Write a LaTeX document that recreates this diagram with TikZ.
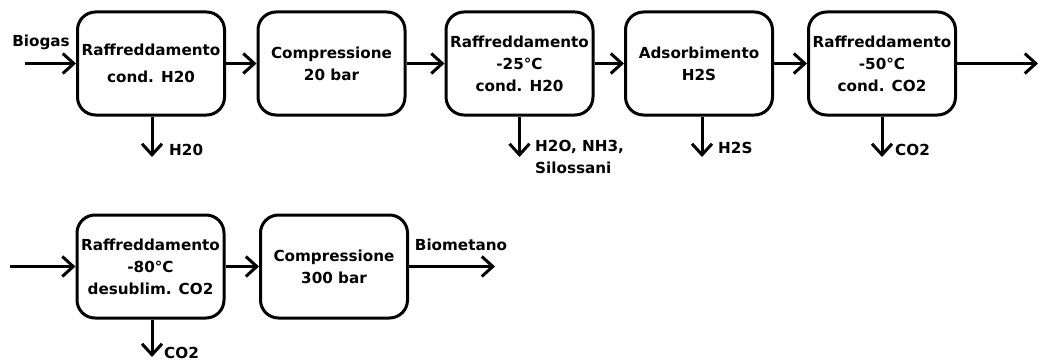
\documentclass[tikz,border=0pt]{standalone}
\usepackage{fontspec}
\setmainfont{DejaVu Sans}
\usetikzlibrary{arrows.meta,calc}
\begin{document}
\begin{tikzpicture}[x=1pt,y=-1pt,
  every node/.style={font=\fontsize{15.2}{22}\selectfont\bfseries},
  unit/.style={draw,line width=3pt,rounded corners=18pt,
    minimum width=147pt,minimum height=103pt,align=center,inner sep=0pt},
  flow/.style={line width=3pt,-{Straight Barb[length=11pt,width=20pt,line width=3pt]}},
  lbl/.style={inner sep=0pt}]
\useasboundingbox (0,0) rectangle (1038,361);
% first line of the process
\node[unit] (b1) at (151,63.5) {Raffreddamento\\[5pt]cond. H20};
\node[unit] (b2) at (331.5,63.5) {Compressione\\20 bar};
\node[unit] (b3) at (519.5,63.5) {Raffreddamento\\-25°C\\cond. H20};
\node[unit] (b4) at (699,63.5) {Adsorbimento\\H2S};
\node[unit] (b5) at (882,63.5) {Raffreddamento\\-50°C\\cond. CO2};
% second line of the process
\node[unit] (b6) at (150.5,266.5) {Raffreddamento\\-80°C\\desublim. CO2};
\node[unit] (b7) at (334,266.5) {Compressione\\300 bar};
% free ends
\coordinate (in1) at (25,63.5);
\coordinate (out5) at (1038,63.5);
\coordinate (in6) at (10,266.5);
\coordinate (out7) at (495,266.5);
\coordinate (d1) at (152,157);
\coordinate (d3) at (519.5,157);
\coordinate (d4) at (702,157);
\coordinate (d5) at (882,157);
\coordinate (d6) at (152,357);
% main stream
\draw[flow] (in1) -- (b1.west);
\draw[flow] (b1.east) -- (b2.west);
\draw[flow] (b2.east) -- (b3.west);
\draw[flow] (b3.east) -- (b4.west);
\draw[flow] (b4.east) -- (b5.west);
\draw[flow] (b5.east) -- (out5);
\draw[flow] (in6) -- (b6.west);
\draw[flow] (b6.east) -- (b7.west);
\draw[flow] (b7.east) -- (out7);
% separated streams
\draw[flow] (b1.south -| d1) -- (d1);
\draw[flow] (b3.south -| d3) -- (d3);
\draw[flow] (b4.south -| d4) -- (d4);
\draw[flow] (b5.south -| d5) -- (d5);
\draw[flow] (b6.south -| d6) -- (d6);
% labels
\node[lbl] (tbio) at (41,42) {Biogas};
\node[lbl,anchor=west] (t1) at (169,150) {H20};
\node[lbl,anchor=north west,align=left] (t3) at (535,140) {H2O, NH3,\\Silossani};
\node[lbl,anchor=west] (t4) at (718,148) {H2S};
\node[lbl,anchor=west] (t5) at (895,150) {CO2};
\node[lbl,anchor=west] (t6) at (164,353) {CO2};
\node[lbl] (tmet) at (461,245) {Biometano};
\end{tikzpicture}
\end{document}
